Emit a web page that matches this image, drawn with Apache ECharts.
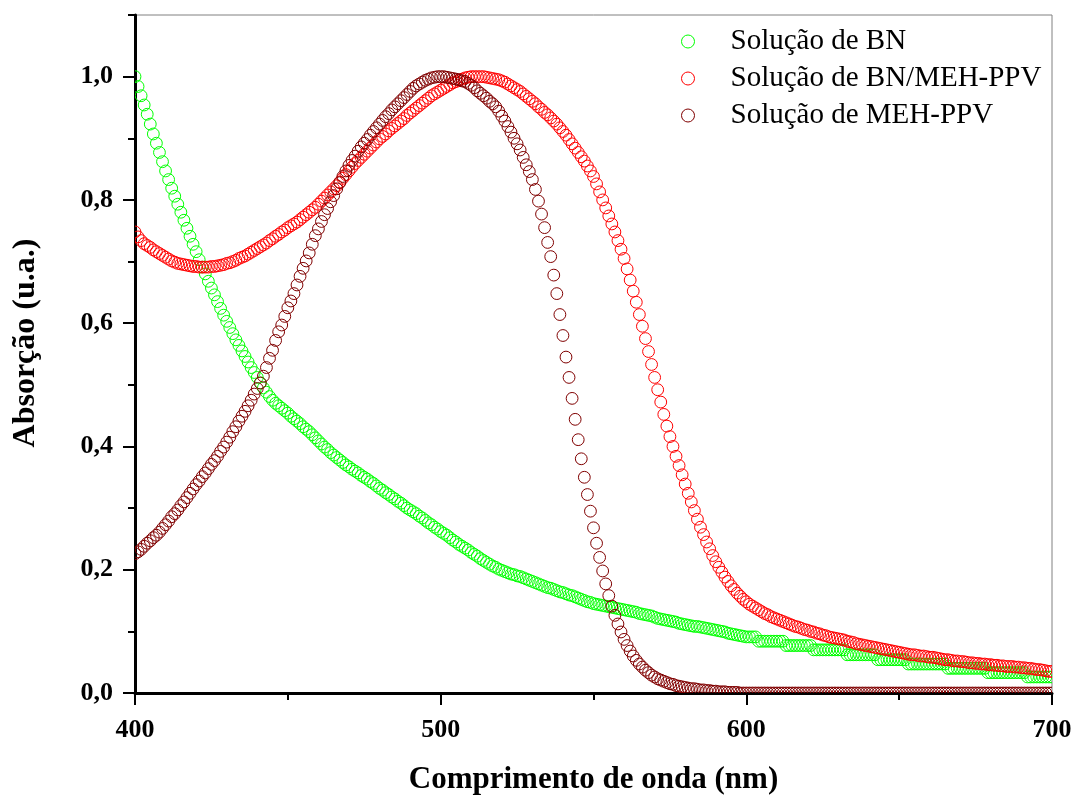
<!DOCTYPE html>
<html>
<head>
<meta charset="utf-8">
<script src="https://cdn.jsdelivr.net/npm/echarts@6/dist/echarts.min.js"></script>
<style>
  html, body { margin: 0; padding: 0; background: #fff; }
  #chart { width: 1076px; height: 796px; }
</style>
</head>
<body>
<div id="chart"></div>
<script>
// Wavelength grid of the spectra (1 nm step, 400-700 nm)
const wavelengths = [];
for (let nm = 400; nm <= 700; nm++) wavelengths.push(nm);

const seriesNames = ['Solução de BN', 'Solução de BN/MEH-PPV', 'Solução de MEH-PPV'];
const seriesColors = ['#00ff00', '#ff0000', '#800000'];
const xTicks = [400, 500, 600, 700];
const yTicks = [0, 0.2, 0.4, 0.6, 0.8, 1.0];

// Normalised absorption, BN solution
const bn = [
  1.000,0.984,0.969,0.954,0.939,0.923,0.907,0.892,0.877,0.862,
  0.847,0.833,0.819,0.806,0.793,0.780,0.767,0.754,0.741,0.728,
  0.716,0.703,0.691,0.680,0.668,0.657,0.646,0.635,0.624,0.613,
  0.603,0.593,0.583,0.573,0.564,0.555,0.546,0.537,0.528,0.520,
  0.512,0.503,0.495,0.488,0.481,0.475,0.470,0.466,0.462,0.458,
  0.454,0.449,0.445,0.441,0.437,0.432,0.428,0.424,0.419,0.414,
  0.409,0.404,0.399,0.395,0.390,0.386,0.382,0.378,0.374,0.370,
  0.367,0.363,0.360,0.357,0.353,0.350,0.347,0.343,0.340,0.336,
  0.332,0.329,0.325,0.322,0.318,0.315,0.311,0.308,0.304,0.300,
  0.297,0.294,0.291,0.287,0.284,0.280,0.276,0.273,0.269,0.266,
  0.262,0.259,0.256,0.252,0.248,0.245,0.241,0.238,0.235,0.232,
  0.228,0.225,0.222,0.218,0.215,0.212,0.209,0.206,0.204,0.201,
  0.199,0.197,0.195,0.193,0.192,0.190,0.189,0.187,0.185,0.183,
  0.181,0.179,0.177,0.175,0.173,0.171,0.170,0.168,0.166,0.164,
  0.163,0.161,0.159,0.158,0.156,0.154,0.152,0.150,0.148,0.147,
  0.145,0.144,0.143,0.142,0.141,0.140,0.139,0.138,0.137,0.136,
  0.135,0.134,0.133,0.132,0.131,0.129,0.128,0.127,0.126,0.125,
  0.123,0.121,0.120,0.119,0.118,0.117,0.116,0.115,0.113,0.112,
  0.111,0.110,0.109,0.108,0.108,0.107,0.106,0.105,0.104,0.103,
  0.102,0.101,0.100,0.099,0.097,0.096,0.095,0.094,0.093,0.092,
  0.091,0.091,0.091,0.091,0.084,0.084,0.084,0.084,0.084,0.084,
  0.084,0.084,0.084,0.077,0.077,0.077,0.077,0.077,0.077,0.077,
  0.077,0.077,0.070,0.070,0.070,0.070,0.070,0.070,0.070,0.070,
  0.070,0.070,0.070,0.062,0.062,0.062,0.062,0.062,0.062,0.062,
  0.062,0.062,0.062,0.054,0.054,0.054,0.054,0.054,0.054,0.054,
  0.054,0.054,0.054,0.047,0.047,0.047,0.047,0.047,0.047,0.047,
  0.047,0.047,0.047,0.047,0.047,0.047,0.040,0.040,0.040,0.040,
  0.040,0.040,0.040,0.040,0.040,0.040,0.040,0.040,0.040,0.033,
  0.033,0.033,0.033,0.033,0.033,0.033,0.033,0.033,0.033,0.033,
  0.033,0.033,0.026,0.026,0.026,0.026,0.026,0.026,0.026,0.026,
  0.026
];

// Normalised absorption, BN/MEH-PPV solution
const bnMehPpv = [
  0.748,0.740,0.734,0.729,0.726,0.723,0.719,0.716,0.713,0.710,
  0.707,0.704,0.701,0.699,0.697,0.696,0.695,0.694,0.693,0.692,
  0.692,0.691,0.691,0.691,0.691,0.692,0.692,0.693,0.694,0.695,
  0.697,0.698,0.700,0.702,0.705,0.707,0.709,0.712,0.715,0.718,
  0.721,0.724,0.727,0.730,0.734,0.737,0.741,0.744,0.748,0.751,
  0.755,0.758,0.761,0.764,0.768,0.772,0.776,0.780,0.784,0.788,
  0.793,0.798,0.803,0.808,0.813,0.818,0.823,0.829,0.835,0.841,
  0.847,0.853,0.859,0.864,0.869,0.874,0.879,0.884,0.889,0.894,
  0.899,0.903,0.907,0.912,0.916,0.920,0.924,0.928,0.932,0.937,
  0.941,0.945,0.949,0.953,0.957,0.961,0.965,0.969,0.972,0.975,
  0.978,0.981,0.984,0.987,0.990,0.992,0.994,0.996,0.998,0.999,
  1.000,1.000,1.000,1.000,1.000,0.999,0.998,0.997,0.996,0.995,
  0.993,0.991,0.988,0.985,0.982,0.979,0.976,0.972,0.968,0.964,
  0.960,0.956,0.951,0.947,0.942,0.938,0.933,0.928,0.923,0.917,
  0.911,0.905,0.898,0.891,0.884,0.877,0.870,0.863,0.855,0.847,
  0.838,0.826,0.813,0.800,0.787,0.774,0.761,0.748,0.734,0.720,
  0.705,0.688,0.670,0.652,0.634,0.614,0.595,0.575,0.554,0.533,
  0.512,0.492,0.472,0.452,0.433,0.416,0.400,0.384,0.369,0.354,
  0.339,0.324,0.310,0.296,0.282,0.269,0.257,0.245,0.234,0.223,
  0.213,0.204,0.196,0.188,0.181,0.174,0.168,0.162,0.157,0.152,
  0.148,0.144,0.141,0.138,0.135,0.132,0.129,0.127,0.124,0.122,
  0.120,0.118,0.116,0.114,0.112,0.110,0.108,0.107,0.105,0.103,
  0.102,0.100,0.099,0.097,0.096,0.094,0.093,0.091,0.090,0.089,
  0.088,0.087,0.086,0.084,0.083,0.082,0.080,0.079,0.078,0.077,
  0.076,0.075,0.074,0.073,0.072,0.071,0.070,0.069,0.068,0.067,
  0.066,0.065,0.064,0.063,0.062,0.062,0.061,0.060,0.060,0.059,
  0.058,0.058,0.057,0.056,0.055,0.054,0.054,0.053,0.052,0.052,
  0.051,0.051,0.050,0.049,0.049,0.048,0.048,0.047,0.047,0.046,
  0.046,0.045,0.045,0.044,0.044,0.043,0.043,0.043,0.042,0.042,
  0.041,0.041,0.040,0.040,0.039,0.038,0.038,0.037,0.036,0.035,
  0.035
];

// Normalised absorption, MEH-PPV solution
const mehPpv = [
  0.226,0.229,0.233,0.238,0.243,0.247,0.252,0.256,0.261,0.267,
  0.273,0.279,0.286,0.291,0.297,0.304,0.310,0.317,0.324,0.331,
  0.338,0.344,0.351,0.357,0.364,0.371,0.377,0.384,0.392,0.399,
  0.407,0.415,0.424,0.432,0.441,0.449,0.457,0.466,0.475,0.485,
  0.494,0.503,0.514,0.528,0.543,0.556,0.572,0.586,0.597,0.611,
  0.625,0.636,0.648,0.662,0.676,0.689,0.701,0.714,0.728,0.742,
  0.753,0.765,0.776,0.786,0.797,0.807,0.818,0.828,0.838,0.847,
  0.856,0.864,0.871,0.879,0.886,0.892,0.898,0.905,0.911,0.917,
  0.923,0.929,0.935,0.940,0.946,0.951,0.956,0.961,0.966,0.971,
  0.976,0.981,0.985,0.988,0.991,0.994,0.996,0.998,0.999,1.000,
  1.000,1.000,0.999,0.998,0.997,0.996,0.995,0.993,0.992,0.989,
  0.986,0.982,0.977,0.973,0.969,0.965,0.960,0.956,0.951,0.944,
  0.936,0.928,0.919,0.910,0.900,0.891,0.881,0.869,0.857,0.846,
  0.833,0.817,0.798,0.777,0.755,0.731,0.708,0.678,0.648,0.614,
  0.580,0.545,0.512,0.478,0.444,0.411,0.380,0.350,0.322,0.295,
  0.268,0.243,0.220,0.198,0.177,0.158,0.141,0.126,0.112,0.099,
  0.087,0.077,0.068,0.060,0.053,0.047,0.042,0.037,0.033,0.029,
  0.026,0.023,0.021,0.019,0.017,0.015,0.014,0.012,0.011,0.010,
  0.009,0.008,0.007,0.007,0.006,0.005,0.005,0.004,0.004,0.003,
  0.003,0.002,0.002,0.002,0.001,0.001,0.001,0.001,0.000,0.000,
  0,0,0,0,0,0,0,0,0,0,
  0,0,0,0,0,0,0,0,0,0,
  0,0,0,0,0,0,0,0,0,0,
  0,0,0,0,0,0,0,0,0,0,
  0,0,0,0,0,0,0,0,0,0,
  0,0,0,0,0,0,0,0,0,0,
  0,0,0,0,0,0,0,0,0,0,
  0,0,0,0,0,0,0,0,0,0,
  0,0,0,0,0,0,0,0,0,0,
  0,0,0,0,0,0,0,0,0,0,
  0
];

const SERIF = "'Liberation Serif', 'Times New Roman', serif";
const spectra = [bn, bnMehPpv, mehPpv];
const MARKER_R = 5.9;

// Hollow circle markers, clipped to the plot frame
function circleSeries(name, values, color) {
  return {
    name: name,
    type: 'custom',
    coordinateSystem: 'cartesian2d',
    xAxisIndex: 0,
    yAxisIndex: 0,
    clip: true,
    itemStyle: { color: 'rgba(0,0,0,0)', borderColor: color, borderWidth: 1 },
    data: wavelengths.map((w, i) => [w, values[i]]),
    renderItem: function (params, api) {
      const p = api.coord([api.value(0), api.value(1)]);
      return {
        type: 'circle',
        shape: { cx: p[0], cy: p[1], r: MARKER_R },
        style: { fill: 'none', stroke: color, lineWidth: 1 }
      };
    }
  };
}

const fmt = v => v.toFixed(1).replace('.', ',');

const chart = echarts.init(document.getElementById('chart'), null, { renderer: 'canvas' });
chart.setOption({
  animation: false,
  backgroundColor: '#ffffff',
  grid: {
    left: 135, right: 24, top: 15, bottom: 103,
    show: true, borderColor: '#808080', borderWidth: 1,
    outerBoundsMode: 'none'
  },
  legend: {
    orient: 'vertical',
    left: 681,
    top: 27,
    padding: 0,
    itemWidth: 13,
    itemHeight: 13,
    itemGap: 8,
    selectedMode: false,
    textStyle: {
      fontFamily: SERIF, fontSize: 29, color: '#000',
      lineHeight: 28, padding: [0, 0, 0, 31]
    },
    data: seriesNames.map((n, i) => ({
      name: n,
      icon: 'circle',
      itemStyle: { color: 'rgba(0,0,0,0)', borderColor: seriesColors[i], borderWidth: 1 }
    }))
  },
  xAxis: [
    {
      type: 'value', min: 400, max: 700, interval: 100, position: 'bottom',
      name: 'Comprimento de onda (nm)',
      nameLocation: 'middle', nameGap: 71,
      nameTextStyle: { fontFamily: SERIF, fontSize: 31, fontWeight: 'bold', color: '#000' },
      axisLine: { show: true, onZero: false, lineStyle: { color: '#000', width: 3 } },
      axisTick: { show: true, inside: false, length: 12, lineStyle: { color: '#000', width: 2 } },
      axisLabel: {
        show: true, margin: 24, customValues: xTicks,
        fontFamily: SERIF, fontSize: 26, fontWeight: 'bold', color: '#000'
      },
      splitLine: { show: false }
    },
    {
      type: 'value', min: 400, max: 700, interval: 50, position: 'bottom',
      axisLine: { show: false, onZero: false },
      axisTick: { show: true, inside: false, length: 7, lineStyle: { color: '#000', width: 2 } },
      axisLabel: { show: false },
      splitLine: { show: false }
    }
  ],
  yAxis: [
    {
      type: 'value', min: 0, max: 1.1, interval: 0.2, position: 'left',
      name: 'Absorção (u.a.)',
      nameLocation: 'middle', nameGap: 93, nameRotate: 90,
      nameTextStyle: {
        fontFamily: SERIF, fontSize: 32, fontWeight: 'bold', color: '#000',
        padding: [0, 0, 0, 22]
      },
      axisLine: { show: true, onZero: false, lineStyle: { color: '#000', width: 3 } },
      axisTick: { show: true, inside: false, length: 12, customValues: yTicks, lineStyle: { color: '#000', width: 2 } },
      axisLabel: {
        show: true, margin: 22, customValues: yTicks, formatter: fmt,
        fontFamily: SERIF, fontSize: 26, fontWeight: 'bold', color: '#000'
      },
      splitLine: { show: false }
    },
    {
      type: 'value', min: 0, max: 1.1, interval: 0.1, position: 'left', offset: 0,
      axisLine: { show: false, onZero: false },
      axisTick: { show: true, inside: false, length: 7, lineStyle: { color: '#000', width: 2 } },
      axisLabel: { show: false },
      splitLine: { show: false }
    }
  ],
  series: spectra.map((vals, i) => circleSeries(seriesNames[i], vals, seriesColors[i]))
});
</script>
</body>
</html>
